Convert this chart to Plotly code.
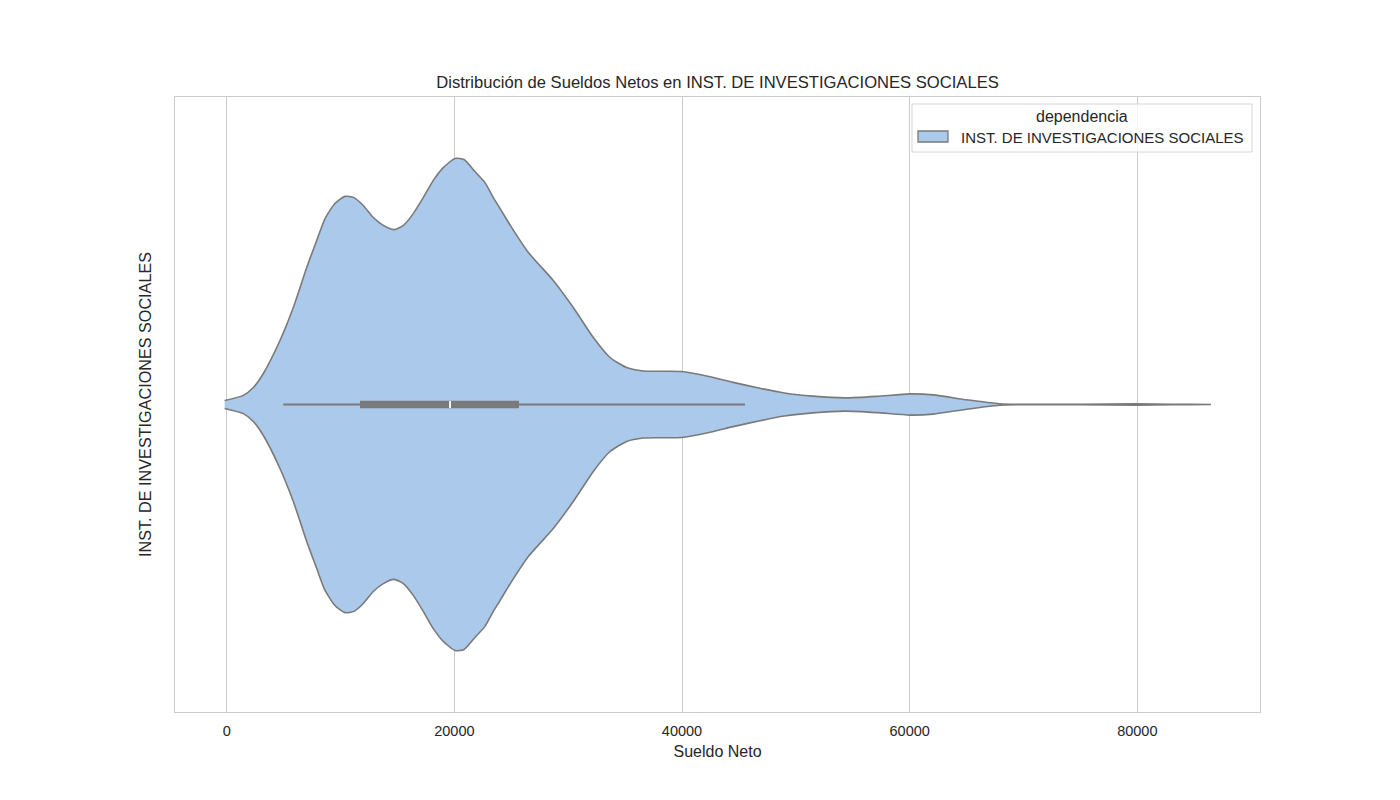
"""
Violin plot of net salaries (Sueldo Neto) for one dependency, redrawn in
Plotly from a seaborn figure. The density outline was read off the
original picture, so it's drawn as a filled, mirrored outline rather than
recomputed from raw salaries.
"""

import plotly.graph_objects as go

DEPENDENCIA = "INST. DE INVESTIGACIONES SOCIALES"
LEGEND_TITLE = "dependencia"

# salary values along the violin outline and the relative density there
# (peak = 1.0)
SUELDO = [
    -180, 1460, 2340, 3220, 4680, 5850, 7030, 7910, 8640, 9510,
    10390, 11180, 12000, 12880, 13760, 14700, 15520, 16390, 17270, 18150,
    19030, 20060, 20850, 21810, 22690, 23420, 24010, 24970, 26500, 28690,
    30450, 32210, 33670, 35140, 36600, 38240, 39970, 42170, 44500, 46850,
    49000, 51500, 54300, 57100, 60030, 62080, 65010, 67930, 69400, 75000,
    80000, 83000, 86470,
]
DENSIDAD = [
    0.016, 0.037, 0.069, 0.126, 0.260, 0.394, 0.557, 0.667, 0.756, 0.817,
    0.846, 0.841, 0.809, 0.760, 0.728, 0.711, 0.728, 0.776, 0.841, 0.911,
    0.963, 1.0, 0.996, 0.947, 0.902, 0.841, 0.797, 0.724, 0.618, 0.504,
    0.394, 0.272, 0.191, 0.150, 0.136, 0.135, 0.134, 0.116, 0.090, 0.066,
    0.047, 0.034, 0.027, 0.033, 0.043, 0.039, 0.019, 0.003, 0.001, 0.0005,
    0.0025, 0.001, 0.0,
]

# box summary: whisker ends, quartiles and median
BIGOTE_BAJO = 4970
Q1 = 11710
MEDIANA = 19620
Q3 = 25680
BIGOTE_ALTO = 45530

X_TICKS = [0, 20000, 40000, 60000, 80000]

VIOLIN_FILL = "#abc9ea"
VIOLIN_LINE = "#7a7a7a"
GRID_COLOR = "#cccccc"
TEXT_COLOR = "#262626"
FONT = "Liberation Sans, Arial, sans-serif"

HALF_WIDTH = 0.4  # seaborn's default violin width is 0.8 of a category slot

# the page puts the figure 8px in from the top-left corner
PAGE_OFFSET = 8
PLOT_LEFT, PLOT_RIGHT, PLOT_TOP, PLOT_BOTTOM = 175, 1260, 97, 712


def paper_x(px):
    return (px - PLOT_LEFT) / (PLOT_RIGHT - PLOT_LEFT)


def paper_y(py):
    return (PLOT_BOTTOM - py) / (PLOT_BOTTOM - PLOT_TOP)


fig = go.Figure()

upper = [HALF_WIDTH * d for d in DENSIDAD]
lower = [-HALF_WIDTH * d for d in reversed(DENSIDAD)]
fig.add_trace(go.Scatter(
    x=SUELDO + SUELDO[::-1],
    y=upper + lower,
    mode="lines",
    line=dict(color=VIOLIN_LINE, width=1.6, shape="spline", smoothing=0.6),
    fill="toself",
    fillcolor=VIOLIN_FILL,
    name=DEPENDENCIA,
    showlegend=False,
    hoverinfo="skip",
))

# inner box: thin whisker line, thick IQR bar, white median tick
fig.add_trace(go.Scatter(
    x=[BIGOTE_BAJO, BIGOTE_ALTO], y=[0, 0], mode="lines",
    line=dict(color=VIOLIN_LINE, width=2.2), showlegend=False, hoverinfo="skip",
))
fig.add_trace(go.Scatter(
    x=[Q1, Q3], y=[0, 0], mode="lines",
    line=dict(color=VIOLIN_LINE, width=7.5), showlegend=False,
    hovertext=[f"Q1: {Q1}", f"Q3: {Q3}"], hoverinfo="text",
))
fig.add_trace(go.Scatter(
    x=[MEDIANA], y=[0], mode="markers",
    marker=dict(symbol="line-ns", size=5, line=dict(color="white", width=1.8)),
    showlegend=False, hovertext=[f"Mediana: {MEDIANA}"], hoverinfo="text",
))

# matplotlib-style legend box, drawn by hand so the patch is a proper swatch
fig.add_shape(
    type="rect", xref="paper", yref="paper",
    x0=paper_x(912), x1=paper_x(1252), y0=paper_y(152), y1=paper_y(104),
    line=dict(color="#d6d6d6", width=1), fillcolor="rgba(255,255,255,0.8)",
    layer="above",
)
fig.add_shape(
    type="rect", xref="paper", yref="paper",
    x0=paper_x(918), x1=paper_x(948), y0=paper_y(142), y1=paper_y(131),
    line=dict(color=VIOLIN_LINE, width=1.3), fillcolor=VIOLIN_FILL,
    layer="above",
)
fig.add_annotation(
    x=paper_x(1082), y=paper_y(117), xref="paper", yref="paper",
    text=LEGEND_TITLE, showarrow=False, xanchor="center", yanchor="middle",
    font=dict(size=16, color=TEXT_COLOR),
)
fig.add_annotation(
    x=paper_x(959), y=paper_y(137), xref="paper", yref="paper",
    text=DEPENDENCIA, showarrow=False, xanchor="left", yanchor="middle",
    font=dict(size=15, color=TEXT_COLOR),
)

fig.update_layout(
    width=1400,
    height=800,
    margin=dict(
        l=PLOT_LEFT - PAGE_OFFSET,
        r=1400 + PAGE_OFFSET - PLOT_RIGHT,
        t=PLOT_TOP - PAGE_OFFSET,
        b=800 + PAGE_OFFSET - PLOT_BOTTOM,
    ),
    paper_bgcolor="white",
    plot_bgcolor="white",
    font=dict(family=FONT, color=TEXT_COLOR, size=15),
    title=dict(
        text=f"Distribución de Sueldos Netos en {DEPENDENCIA}",
        x=0.5, xref="paper", y=1 - (82 - PAGE_OFFSET) / 800, yref="container",
        xanchor="center", yanchor="middle",
        font=dict(size=16.6, color=TEXT_COLOR),
    ),
    xaxis=dict(
        range=[-4542, 90779],
        tickvals=X_TICKS,
        tickformat="d",
        showgrid=True, gridcolor=GRID_COLOR, gridwidth=1,
        zeroline=False,
        showline=True, mirror=True, linecolor=GRID_COLOR, linewidth=1.3,
        ticks="", ticklabelstandoff=5,
        tickfont=dict(size=14.5),
        title=dict(text="Sueldo Neto", font=dict(size=16), standoff=8),
    ),
    yaxis=dict(
        range=[0.5, -0.5],
        showticklabels=False, showgrid=False, zeroline=False,
        showline=True, mirror=True, linecolor=GRID_COLOR, linewidth=1.3,
        ticks="",
        title=dict(text=DEPENDENCIA, font=dict(size=16.2), standoff=18),
    ),
    showlegend=False,
)

fig.write_html("out.html")
